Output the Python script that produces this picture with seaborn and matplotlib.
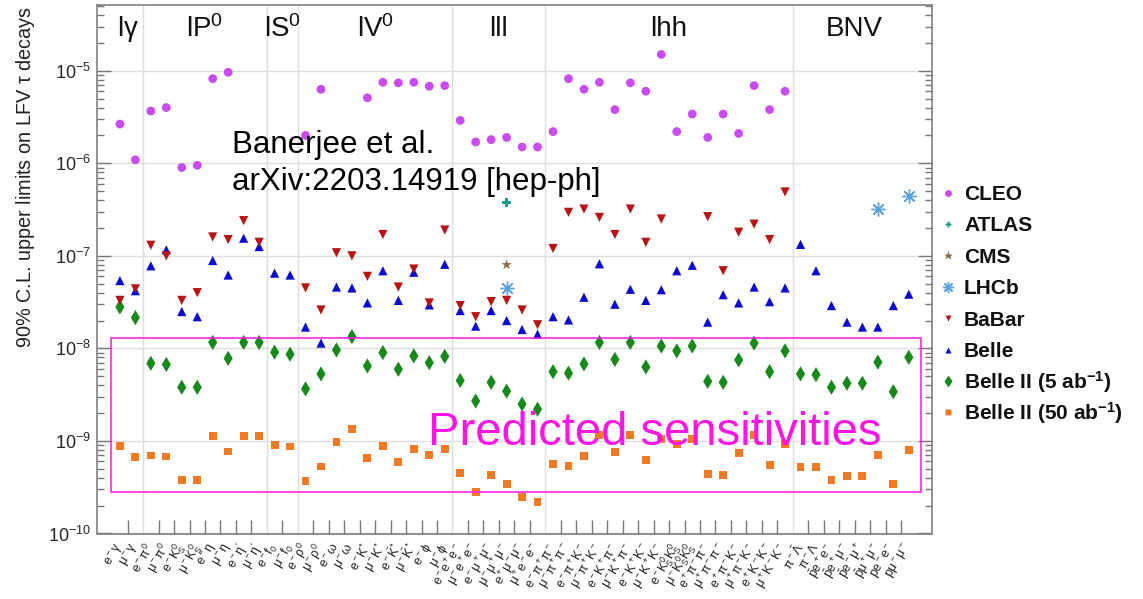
import numpy as np
import pandas as pd
import matplotlib
matplotlib.use("Agg")
import matplotlib.pyplot as plt
from matplotlib.lines import Line2D
from matplotlib.patches import Rectangle
from matplotlib.ticker import FixedLocator, LogFormatterSciNotation, NullFormatter
import seaborn as sns

nan = np.nan

# ---------------- data ----------------
categories = [
    r'$e^-\gamma$', r'$\mu^-\gamma$',
    r'$e^-\pi^0$', r'$\mu^-\pi^0$', r'$e^-K^0_S$', r'$\mu^-K^0_S$', r'$e^-\eta$', r'$\mu^-\eta$',
    r"$e^-\eta'$", r"$\mu^-\eta'$",
    r'$e^-f_0$', r'$\mu^-f_0$',
    r'$e^-\rho^0$', r'$\mu^-\rho^0$', r'$e^-\omega$', r'$\mu^-\omega$', r'$e^-K^{*}$', r'$\mu^-K^{*}$',
    r'$e^-\bar{K}^{*}$', r'$\mu^-\bar{K}^{*}$', r'$e^-\phi$', r'$\mu^-\phi$',
    r'$e^-e^+e^-$', r'$\mu^-e^+e^-$', r'$e^-\mu^+\mu^-$', r'$\mu^-\mu^+\mu^-$', r'$e^+\mu^-\mu^-$', r'$\mu^+e^-e^-$',
    r'$e^-\pi^+\pi^-$', r'$\mu^-\pi^+\pi^-$', r'$e^-\pi^+K^-$', r'$\mu^-\pi^+K^-$', r'$e^-K^+\pi^-$', r'$\mu^-K^+\pi^-$',
    r'$e^-K^+K^-$', r'$\mu^-K^+K^-$', r'$e^-K^0_SK^0_S$', r'$\mu^-K^0_SK^0_S$', r'$e^+\pi^-\pi^-$', r'$\mu^+\pi^-\pi^-$',
    r'$e^+\pi^-K^-$', r'$\mu^+\pi^-K^-$', r'$e^+K^-K^-$', r'$\mu^+K^-K^-$',
    r'$\pi^-\bar{\Lambda}$', r'$\pi^-\Lambda$', r'$\bar{p}e^+e^-$', r'$\bar{p}e^+\mu^-$', r'$\bar{p}e^-\mu^+$',
    r'$\bar{p}\mu^+\mu^-$', r'$pe^-e^-$', r'$p\mu^-\mu^-$',
]

sections = [r'l$\gamma$', r'lP$^{0}$', r'lS$^{0}$', r'lV$^{0}$', 'lll', 'lhh', 'BNV']
section_sizes = [2, 8, 2, 10, 6, 16, 8]

cleo = [2.65e-6, 1.09e-6,
        3.67e-6, 4.0e-6, 9.0e-7, 9.5e-7, 8.2e-6, 9.6e-6, nan, nan,
        nan, nan,
        2.0e-6, 6.3e-6, nan, nan, 5.1e-6, 7.5e-6, 7.4e-6, 7.5e-6, 6.8e-6, 6.9e-6,
        2.9e-6, 1.7e-6, 1.8e-6, 1.9e-6, 1.5e-6, 1.5e-6,
        2.2e-6, 8.2e-6, 6.3e-6, 7.5e-6, 3.8e-6, 7.4e-6, 6.0e-6, 1.5e-5,
        2.2e-6, 3.4e-6, 1.9e-6, 3.4e-6, 2.1e-6, 6.9e-6, 3.8e-6, 6.0e-6,
        nan, nan, nan, nan, nan, nan, nan, nan]

babar = [3.3e-8, 4.4e-8,
         1.3e-7, 1.0e-7, 3.3e-8, 4.0e-8, 1.6e-7, 1.5e-7, 2.4e-7, 1.4e-7,
         nan, nan,
         4.5e-8, 2.6e-8, 1.08e-7, 1.0e-7, 6.0e-8, 1.7e-7, 4.6e-8, 7.2e-8, 3.1e-8, 1.9e-7,
         2.9e-8, 2.2e-8, 3.2e-8, 3.3e-8, 2.6e-8, 1.8e-8,
         1.2e-7, 2.95e-7, 3.2e-7, 2.6e-7, 1.7e-7, 3.2e-7, 1.4e-7, 2.5e-7,
         nan, nan, 2.65e-7, 6.9e-8, 1.8e-7, 2.2e-7, 1.5e-7, 4.9e-7,
         nan, nan, nan, nan, nan, nan, nan, nan]

belle = [5.4e-8, 4.2e-8,
         7.8e-8, 1.16e-7, 2.5e-8, 2.2e-8, 8.9e-8, 6.2e-8, 1.55e-7, 1.26e-7,
         6.5e-8, 6.2e-8,
         1.7e-8, 1.14e-8, 4.6e-8, 4.5e-8, 3.1e-8, 6.9e-8, 3.3e-8, 6.65e-8, 2.95e-8, 8.1e-8,
         2.56e-8, 1.74e-8, 2.56e-8, 2.0e-8, 1.6e-8, 1.42e-8,
         2.2e-8, 2.03e-8, 3.57e-8, 8.2e-8, 3.0e-8, 4.35e-8, 3.3e-8, 4.3e-8,
         6.9e-8, 7.9e-8, 1.92e-8, 3.8e-8, 3.1e-8, 4.6e-8, 3.2e-8, 4.5e-8,
         1.33e-7, 6.9e-8, 2.9e-8, 1.92e-8, 1.7e-8, 1.7e-8, 2.9e-8, 3.85e-8]

belle2_5 = [2.8e-8, 2.15e-8,
            6.9e-9, 6.7e-9, 3.8e-9, 3.8e-9, 1.16e-8, 7.8e-9, 1.16e-8, 1.16e-8,
            9.1e-9, 8.65e-9,
            3.65e-9, 5.3e-9, 9.6e-9, 1.34e-8, 6.45e-9, 9.0e-9, 5.95e-9, 8.3e-9, 7.0e-9, 8.2e-9,
            4.5e-9, 2.7e-9, 4.3e-9, 3.45e-9, 2.5e-9, 2.2e-9,
            5.6e-9, 5.4e-9, 6.8e-9, 1.16e-8, 7.6e-9, 1.16e-8, 6.3e-9, 1.06e-8,
            9.4e-9, 1.06e-8, 4.4e-9, 4.3e-9, 7.5e-9, 1.14e-8, 5.6e-9, 9.4e-9,
            5.3e-9, 5.2e-9, 3.8e-9, 4.2e-9, 4.2e-9, 7.1e-9, 3.4e-9, 8.0e-9]

belle2_50 = [8.8e-10, 6.7e-10,
             6.95e-10, 6.8e-10, 3.8e-10, 3.8e-10, 1.14e-9, 7.7e-10, 1.14e-9, 1.14e-9,
             9.1e-10, 8.7e-10,
             3.7e-10, 5.3e-10, 9.7e-10, 1.35e-9, 6.5e-10, 8.9e-10, 5.9e-10, 8.2e-10, 7.1e-10, 8.1e-10,
             4.5e-10, 2.8e-10, 4.3e-10, 3.4e-10, 2.5e-10, 2.2e-10,
             5.6e-10, 5.4e-10, 6.9e-10, 1.16e-9, 7.6e-10, 1.16e-9, 6.25e-10, 1.05e-9,
             9.3e-10, 1.05e-9, 4.4e-10, 4.3e-10, 7.4e-10, 1.16e-9, 5.5e-10, 9.3e-10,
             5.2e-10, 5.2e-10, 3.8e-10, 4.2e-10, 4.2e-10, 7.1e-10, 3.4e-10, 8.0e-10]

atlas_modes = [r'$\mu^-\mu^+\mu^-$']
atlas_vals = [3.8e-7]
cms_modes = [r'$\mu^-\mu^+\mu^-$']
cms_vals = [8.0e-8]
lhcb_modes = [r'$\mu^-\mu^+\mu^-$', r'$\bar{p}\mu^+\mu^-$', r'$p\mu^-\mu^-$']
lhcb_vals = [4.5e-8, 3.2e-7, 4.4e-7]

legend_names = ['CLEO', 'ATLAS', 'CMS', 'LHCb', 'BaBar', 'Belle',
                r'Belle II (5 ab$^{\mathbf{-1}}$)', r'Belle II (50 ab$^{\mathbf{-1}}$)']

# ---------------- style ----------------
sns.set_style('white')
plt.rcParams['font.family'] = ['Liberation Sans', 'DejaVu Sans']
plt.rcParams['mathtext.fontset'] = 'custom'
plt.rcParams['mathtext.rm'] = 'Liberation Sans'
plt.rcParams['mathtext.it'] = 'Liberation Sans:italic'
plt.rcParams['mathtext.bf'] = 'Liberation Sans:bold'
plt.rcParams['mathtext.sf'] = 'Liberation Sans'
plt.rcParams['mathtext.default'] = 'regular'

C_CLEO = '#c84cf0'
C_ATLAS = '#1a9a8a'
C_CMS = '#8a6a48'
C_LHCB = '#5aa0dc'
C_BABAR = '#b81414'
C_BELLE = '#0a0ad2'
C_B2_5 = '#16891a'
C_B2_50 = '#f37a24'
C_MAG = '#ff14e6'

W, H = 1143, 599
fig = plt.figure(figsize=(W / 100, H / 100), dpi=100)
ax_l, ax_r, ax_t, ax_b = 96.7, 932.0, 5.0, 533.5
ax = fig.add_axes([ax_l / W, 1 - ax_b / H, (ax_r - ax_l) / W, (ax_b - ax_t) / H])

ncat = len(categories)
pos = np.arange(ncat)

# grid lines
bounds = np.cumsum(section_sizes)[:-1] - 0.5
for b in bounds:
    ax.axvline(b, color='#dedede', lw=1.0, zorder=0)
for e in range(-10, -4):
    ax.axhline(10.0 ** e, color='#dedede', lw=1.0, zorder=0)

def draw(vals, marker, color, s, z, lw=0.0, ec=None, positions=None):
    v = np.asarray(vals, dtype=float)
    p = pos if positions is None else np.asarray(positions)
    m = ~np.isnan(v)
    df = pd.DataFrame({'x': p[m], 'y': v[m]})
    sns.scatterplot(data=df, x='x', y='y', marker=marker, color=color, s=s,
                    linewidth=lw, edgecolor=ec if ec is not None else 'none',
                    ax=ax, zorder=z, legend=False)

draw(belle2_50, 's', C_B2_50, 32, 3)
draw(belle2_5, 'd', C_B2_5, 60, 3)
draw(belle, '^', C_BELLE, 44, 4)
draw(babar, 'v', C_BABAR, 44, 5)
draw(cleo, 'o', C_CLEO, 40, 4)
draw(lhcb_vals, (8, 2, 0), C_LHCB, 90, 6, lw=1.0, ec=C_LHCB,
     positions=[categories.index(m) for m in lhcb_modes])
draw(cms_vals, '*', C_CMS, 60, 6, positions=[categories.index(m) for m in cms_modes])
draw(atlas_vals, 'P', C_ATLAS, 40, 6, positions=[categories.index(m) for m in atlas_modes])

ax.set_yscale('log')
ax.set_ylim(1e-10, 10 ** (-4.29))
ax.set_xlim(-1.5, ncat + 0.5)

# x ticks
ax.set_xticks(pos)
ax.set_xticklabels(categories, rotation=60, ha='right', va='center',
                   rotation_mode='anchor', fontsize=9, color='#222222')
bset = set(float(b) for b in bounds)
edges = [k + 0.5 for k in range(0, ncat - 1) if (k + 0.5) not in bset]
ax.xaxis.set_minor_locator(FixedLocator(edges))
ax.xaxis.set_minor_formatter(NullFormatter())
ax.tick_params(axis='x', which='major', length=0, pad=8)
ax.tick_params(axis='x', which='minor', direction='in', length=10, width=1, color='#777777',
               top=False, bottom=True)

# y ticks (only inside the visible range)
ymajor = [10.0 ** e for e in range(-10, -4)]
yminor = [m * 10.0 ** e for e in range(-10, -4) for m in range(2, 10) if m * 10.0 ** e < 10 ** (-4.29)]
ax.yaxis.set_major_locator(FixedLocator(ymajor))
ax.yaxis.set_minor_locator(FixedLocator(yminor))
ax.yaxis.set_major_formatter(LogFormatterSciNotation())
ax.yaxis.set_minor_formatter(NullFormatter())
ax.tick_params(axis='y', which='major', direction='in', length=10, width=1, color='#777777',
               left=True, right=True, labelsize=13, pad=4)
ax.tick_params(axis='y', which='minor', direction='in', length=5, width=1, color='#777777',
               left=True, right=True)
ax.set_xlabel('')
ax.set_ylabel('')
ax.xaxis.label.set_visible(False)
ax.yaxis.label.set_visible(False)

for sp in ax.spines.values():
    sp.set_color('#808080')
    sp.set_linewidth(1.2)

fig.text(0.022, 1 - 6 / H, r'90% C.L. upper limits on LFV $\tau$ decays', rotation=90,
         ha='center', va='top', fontsize=14.3, color='#222222')

# section labels
start = 0
for name, n in zip(sections, section_sizes):
    xc = start + (n - 1) / 2.0
    ax.text(xc, 0.955, name, transform=ax.get_xaxis_transform(), ha='center', va='center',
            fontsize=20, color='#111111')
    start += n

# annotation
fig.text(232 / W, 1 - 153 / H, 'Banerjee et al.', ha='left', va='baseline',
         fontsize=22.5, color='black')
fig.text(232 / W, 1 - 190 / H, 'arXiv:2203.14919 [hep-ph]', ha='left', va='baseline',
         fontsize=22.5, color='black')

# predicted sensitivities box
x0 = (110 - 119) / 15.46
x1 = (920 - 119) / 15.46
y0, y1 = 2.78e-10, 1.29e-8
ax.add_patch(Rectangle((x0, y0), x1 - x0, y1 - y0, fill=False, edgecolor=C_MAG, lw=1.1, zorder=7))
fig.text(428 / W, 1 - 445 / H, 'Predicted sensitivities', ha='left', va='baseline',
         fontsize=34, color=C_MAG, zorder=8)

# legend (drawn entry by entry)
leg_markers = [
    dict(marker='o', color=C_CLEO, markersize=5, mec='none'),
    dict(marker='P', color=C_ATLAS, markersize=5, mec='none'),
    dict(marker='*', color=C_CMS, markersize=6.5, mec='none'),
    dict(marker=(8, 2, 0), color=C_LHCB, markersize=8, mew=1.0),
    dict(marker='v', color=C_BABAR, markersize=5, mec='none'),
    dict(marker='^', color=C_BELLE, markersize=5, mec='none'),
    dict(marker='d', color=C_B2_5, markersize=6.5, mec='none'),
    dict(marker='s', color=C_B2_50, markersize=4.5, mec='none'),
]
for i, (name, mk) in enumerate(zip(legend_names, leg_markers)):
    yc = 192.5 + 31.4 * i
    fig.add_artist(Line2D([948 / W], [1 - yc / H], transform=fig.transFigure, ls='none', **mk))
    fig.text(964 / W, 1 - (yc + 7.5) / H, name, ha='left', va='baseline',
             fontsize=15, fontweight='bold', color='#111111')

fig.savefig('out.png', dpi=100)
